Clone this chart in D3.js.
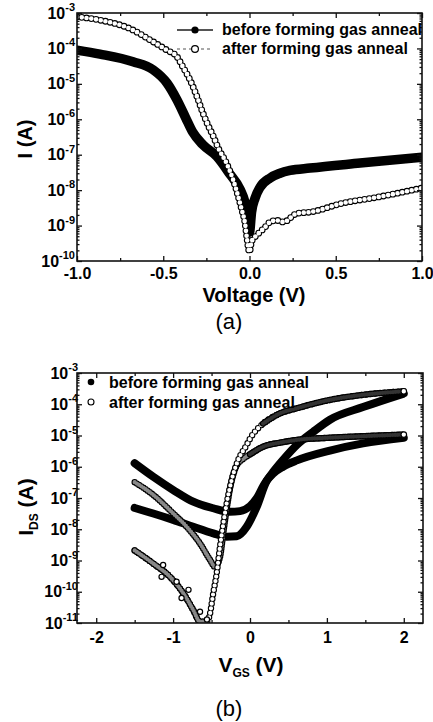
<!DOCTYPE html>
<html>
<head>
<meta charset="utf-8">
<script src="https://cdn.jsdelivr.net/npm/d3@7"></script>
<style>
body { margin: 0; background: #fff; }
text { font-family: Arial, "Liberation Sans", sans-serif; }
</style>
</head>
<body>
<div id="chart"></div>
<script>
// ---- panel (a): diode I-V, [V, I (A)]
var ivBefore = [
    [-1.0, 8.9e-5], [-0.867, 6.9e-5], [-0.675, 4.2e-5], [-0.559, 2.5e-5], [-0.478, 1.05e-5],
    [-0.42, 3.5e-6], [-0.37, 1.1e-6], [-0.33, 4.4e-7], [-0.27, 1.9e-7], [-0.19, 9e-8],
    [-0.113, 2.8e-8], [-0.055, 1.07e-8], [-0.026, 4.6e-9], [-0.009, 1.9e-9], [0.0, 6.5e-10],
    [0.012, 2.4e-9], [0.032, 5.9e-9], [0.061, 1.2e-8], [0.119, 2.2e-8], [0.177, 3e-8],
    [0.235, 3.6e-8], [0.351, 4.2e-8], [0.641, 5.8e-8], [1.0, 8.5e-8]
];
var ivAfter = [
    [-1.0, 7.8e-4], [-0.867, 6.3e-4], [-0.675, 3.3e-4], [-0.577, 1.74e-4], [-0.478, 8.9e-5],
    [-0.42, 5.8e-5], [-0.386, 3e-5], [-0.345, 1.3e-5], [-0.304, 4.3e-6], [-0.27, 1.5e-6],
    [-0.241, 6.9e-7], [-0.212, 3.5e-7], [-0.18, 1.5e-7], [-0.132, 5.6e-8], [-0.094, 1.9e-8],
    [-0.065, 6.5e-9], [-0.045, 2.8e-9], [-0.026, 1.15e-9], [-0.016, 4.8e-10], [0.0, 1.8e-10],
    [0.012, 3.5e-10], [0.032, 4.8e-10], [0.061, 6.6e-10], [0.09, 9e-10], [0.119, 1.26e-9],
    [0.158, 1.4e-9], [0.197, 1.26e-9], [0.275, 2.2e-9], [0.351, 2.4e-9], [0.542, 4.3e-9],
    [0.739, 6.3e-9], [1.0, 1.15e-8]
];

// ---- panel (b): transfer curves, [VGS, IDS (A)]
var tfBeforeA = [
    [-1.5, 1.3e-6], [-1.258, 4.8e-7], [-0.998, 1.8e-7], [-0.738, 7.6e-8], [-0.478, 4.7e-8],
    [-0.26, 3.6e-8], [-0.13, 3.8e-8], [0.0, 5.5e-8], [0.09, 1e-7], [0.18, 2.6e-7],
    [0.30, 6.8e-7], [0.43, 1.66e-6], [0.61, 5e-6], [0.82, 1.3e-5], [1.04, 3.2e-5],
    [1.47, 8.1e-5], [2.0, 2.2e-4]
];
var tfBeforeB = [
    [-1.5, 4.8e-8], [-1.258, 3.2e-8], [-0.998, 2e-8], [-0.738, 1.2e-8], [-0.478, 7.4e-9],
    [-0.303, 5.8e-9], [-0.173, 6e-9], [-0.043, 1.2e-8], [0.087, 5.2e-8], [0.217, 3.5e-7],
    [0.30, 6e-7], [0.43, 1e-6], [0.61, 1.6e-6], [1.04, 3.3e-6], [1.47, 5.6e-6], [2.0, 8.5e-6]
];
var tfAfterC = [
    [-1.5, 3.2e-7], [-1.258, 1.26e-7], [-0.998, 3.2e-8], [-0.823, 1.2e-8], [-0.65, 3.5e-9],
    [-0.52, 1.05e-9], [-0.455, 6.3e-10], [-0.39, 1.3e-9], [-0.346, 8e-9], [-0.30, 5e-8],
    [-0.26, 2e-7], [-0.173, 1.1e-6], [-0.087, 1.8e-6], [0.0, 2.5e-6], [0.173, 4.4e-6],
    [0.39, 5.9e-6], [0.607, 7.2e-6], [1.04, 8.5e-6], [1.47, 9.5e-6], [2.0, 1.07e-5]
];
var tfAfterD = [
    [-1.5, 2.1e-9], [-1.258, 8e-10], [-1.04, 3e-10], [-0.868, 9e-11], [-0.738, 2.6e-11],
    [-0.65, 1.1e-11], [-0.563, 1.1e-11], [-0.52, 2e-11], [-0.478, 9e-11], [-0.433, 3.9e-10],
    [-0.39, 2.8e-9], [-0.346, 1.55e-8], [-0.303, 6.8e-8], [-0.238, 3.8e-7], [-0.153, 1.66e-6],
    [-0.043, 5e-6], [0.0, 7.9e-6], [0.17, 2.4e-5], [0.39, 5.1e-5], [0.607, 7.4e-5],
    [1.04, 1.38e-4], [1.47, 2e-4], [2.0, 2.6e-4]
];
var tfAfterScatter = [
    [-1.13, 7.2e-10], [-1.15, 3e-10], [-0.955, 2.1e-10], [-0.80, 1.15e-10],
    [-0.89, 6.3e-11], [-0.65, 2.3e-11], [-0.56, 1.3e-11]
];

var legendLabels = ["before forming gas anneal", "after forming gas anneal"];
var xTicksA = [-1, -0.5, 0, 0.5, 1];
var xMinorA = [-0.75, -0.25, 0.25, 0.75];
var xTicksB = [-2, -1, 0, 1, 2];
var xMinorB = [-1.5, -0.5, 0.5, 1.5];
var decadesA = [-10, -9, -8, -7, -6, -5, -4, -3];
var decadesB = [-11, -10, -9, -8, -7, -6, -5, -4, -3];

var W = 433, H = 722;
var svg = d3.select("#chart").append("svg").attr("width", W).attr("height", H);

var xa = d3.scaleLinear().domain([-1, 1]).range([77, 422]);
var ya = d3.scaleLog().domain([1e-10, 1e-3]).range([261, 13]);
var xb = d3.scaleLinear().domain([-2.25, 2.25]).range([77, 423]);
var yb = d3.scaleLog().domain([1e-11, 1e-3]).range([623, 373]);

function lineGen(x, y) {
    return d3.line()
        .x(function (d) { return x(d[0]); })
        .y(function (d) { return y(d[1]); })
        .curve(d3.curveMonotoneX);
}

function styleAxis(g, size) {
    g.select(".domain").remove();
    g.selectAll("line").attr("stroke", "#111").attr("stroke-width", 1.3);
    g.selectAll("text").attr("font-family", "Arial, 'Liberation Sans', sans-serif")
        .attr("font-size", size).attr("font-weight", "bold").attr("fill", "#000");
}

function drawAxes(x, y, xMaj, xMin, decades, fmt, pad, labelX) {
    var g = svg.append("g");
    var x0 = x.range()[0], x1 = x.range()[1];
    var yb0 = y.range()[0], yt = y.range()[1];

    var majY = decades.map(function (k) { return Math.pow(10, k); });
    var minY = [];
    decades.slice(0, -1).forEach(function (k) {
        for (var m = 2; m <= 9; m++) minY.push(m * Math.pow(10, k));
    });

    g.append("g").attr("transform", "translate(0," + yb0 + ")")
        .call(d3.axisBottom(x).tickValues(xMaj).tickSizeInner(-5).tickSizeOuter(0).tickPadding(pad).tickFormat(fmt))
        .call(styleAxis, 16);
    g.append("g").attr("transform", "translate(0," + yb0 + ")")
        .call(d3.axisBottom(x).tickValues(xMin).tickSizeInner(-3).tickSizeOuter(0).tickFormat(""))
        .call(styleAxis, 16);
    g.append("g").attr("transform", "translate(0," + yt + ")")
        .call(d3.axisTop(x).tickValues(xMaj).tickSizeInner(-5).tickSizeOuter(0).tickFormat(""))
        .call(styleAxis, 16);
    g.append("g").attr("transform", "translate(0," + yt + ")")
        .call(d3.axisTop(x).tickValues(xMin).tickSizeInner(-3).tickSizeOuter(0).tickFormat(""))
        .call(styleAxis, 16);

    [[d3.axisLeft, x0], [d3.axisRight, x1]].forEach(function (a) {
        g.append("g").attr("transform", "translate(" + a[1] + ",0)")
            .call(a[0](y).tickValues(majY).tickSizeInner(-5).tickSizeOuter(0).tickFormat(""))
            .call(styleAxis, 16);
        g.append("g").attr("transform", "translate(" + a[1] + ",0)")
            .call(a[0](y).tickValues(minY).tickSizeInner(-2.5).tickSizeOuter(0).tickFormat(""))
            .call(styleAxis, 16);
    });

    // y labels 10^k
    decades.forEach(function (k) {
        var t = g.append("text")
            .attr("x", labelX).attr("y", y(Math.pow(10, k)) + 5.5)
            .attr("text-anchor", "end").attr("font-weight", "bold").attr("font-size", 16);
        t.append("tspan").text("10");
        t.append("tspan").attr("font-size", 11).attr("dy", -7.5).text("-" + (-k));
    });

    g.append("rect")
        .attr("x", x0).attr("y", yt).attr("width", x1 - x0).attr("height", yb0 - yt)
        .attr("fill", "none").attr("stroke", "#111").attr("stroke-width", 1.6);
}

function drawFilled(g, pts, x, y, w) {
    g.append("path").attr("d", lineGen(x, y)(pts))
        .attr("fill", "none").attr("stroke", "#000").attr("stroke-width", w)
        .attr("stroke-linecap", "round").attr("stroke-linejoin", "round");
}

// chain of open circles along the data curve (dash pattern of round caps)
function drawOpen(g, pts, x, y, r, gap, inner) {
    var d = lineGen(x, y)(pts);
    g.append("path").attr("d", d).attr("fill", "none").attr("stroke", "#000")
        .attr("stroke-width", r * 2).attr("stroke-linecap", "round")
        .attr("stroke-dasharray", "0," + gap);
    g.append("path").attr("d", d).attr("fill", "none").attr("stroke", inner)
        .attr("stroke-width", r * 2 - 2.2).attr("stroke-linecap", "round")
        .attr("stroke-dasharray", "0," + gap);
}

function openDots(g, pts, x, y, r) {
    g.selectAll(null).data(pts).enter().append("circle")
        .attr("cx", function (d) { return x(d[0]); })
        .attr("cy", function (d) { return y(d[1]); })
        .attr("r", r - 0.6).attr("fill", "#fff").attr("stroke", "#000").attr("stroke-width", 1.2);
}

function clipFor(id, x, y) {
    svg.append("clipPath").attr("id", id).append("rect")
        .attr("x", x.range()[0]).attr("y", y.range()[1])
        .attr("width", x.range()[1] - x.range()[0]).attr("height", y.range()[0] - y.range()[1]);
    return svg.append("g").attr("clip-path", "url(#" + id + ")");
}

// ================= panel (a)
var ga = clipFor("clipA", xa, ya);
drawFilled(ga, ivBefore, xa, ya, 9.5);
drawOpen(ga, ivAfter, xa, ya, 3.4, 4.8, "#fff");
drawAxes(xa, ya, xTicksA, xMinorA, decadesA, function (v) { return v.toFixed(1); }, 7, 75);

// legend (a)
var la = svg.append("g");
la.append("line").attr("x1", 177).attr("x2", 213).attr("y1", 30).attr("y2", 30)
    .attr("stroke", "#555").attr("stroke-width", 1.8);
la.append("circle").attr("cx", 195).attr("cy", 30).attr("r", 3.6).attr("fill", "#000");
la.append("line").attr("x1", 177).attr("x2", 213).attr("y1", 49).attr("y2", 49)
    .attr("stroke", "#555").attr("stroke-width", 1.2).attr("stroke-dasharray", "3,3");
la.append("circle").attr("cx", 195).attr("cy", 49).attr("r", 3.4)
    .attr("fill", "#fff").attr("stroke", "#000").attr("stroke-width", 1.2);
la.selectAll("text.lg").data(legendLabels).enter().append("text")
    .attr("x", 222).attr("y", function (d, i) { return i === 0 ? 35 : 54; })
    .attr("font-size", 16).attr("font-weight", "bold").text(function (d) { return d; });

svg.append("text").attr("x", 254).attr("y", 302).attr("text-anchor", "middle")
    .attr("font-size", 20).attr("font-weight", "bold").text("Voltage (V)");
svg.append("text").attr("transform", "translate(32,139) rotate(-90)").attr("text-anchor", "middle")
    .attr("font-size", 20).attr("font-weight", "bold").text("I (A)");
svg.append("text").attr("x", 229).attr("y", 329).attr("text-anchor", "middle")
    .attr("font-family", "'Liberation Serif', 'Times New Roman', serif").attr("font-size", 22).text("(a)");

// ================= panel (b)
var gb = clipFor("clipB", xb, yb);
drawFilled(gb, tfBeforeA, xb, yb, 8);
drawFilled(gb, tfBeforeB, xb, yb, 8);
drawOpen(gb, tfAfterC, xb, yb, 3.2, 2.6, "#888");
drawOpen(gb, tfAfterC.slice(13), xb, yb, 3.2, 2.6, "#333");
drawOpen(gb, tfAfterD, xb, yb, 3.2, 4.6, "#fff");
drawOpen(gb, tfAfterD.slice(0, 7), xb, yb, 3.2, 2.6, "#888");
drawOpen(gb, tfAfterD.slice(17), xb, yb, 3.2, 2.6, "#333");
openDots(gb, tfAfterScatter, xb, yb, 3.2);
openDots(gb, [tfAfterC[tfAfterC.length - 1], tfAfterD[tfAfterD.length - 1]], xb, yb, 3.4);
drawAxes(xb, yb, xTicksB, xMinorB, decadesB, function (v) { return String(v); }, 9, 78);

// legend (b)
var lb = svg.append("g");
lb.append("circle").attr("cx", 91).attr("cy", 382).attr("r", 3.3).attr("fill", "#000");
lb.append("circle").attr("cx", 91).attr("cy", 402).attr("r", 3)
    .attr("fill", "#fff").attr("stroke", "#000").attr("stroke-width", 1.1);
lb.selectAll("text.lg").data(legendLabels).enter().append("text")
    .attr("x", 109).attr("y", function (d, i) { return i === 0 ? 387.5 : 407.5; })
    .attr("font-size", 16).attr("font-weight", "bold").text(function (d) { return d; });

var vt = svg.append("text").attr("x", 251).attr("y", 672).attr("text-anchor", "middle")
    .attr("font-size", 21).attr("font-weight", "bold");
vt.append("tspan").text("V");
vt.append("tspan").attr("font-size", 12).attr("dy", 5).text("GS");
vt.append("tspan").attr("dy", -5).text(" (V)");

var it = svg.append("text").attr("transform", "translate(33,507) rotate(-90)").attr("text-anchor", "middle")
    .attr("font-size", 21).attr("font-weight", "bold");
it.append("tspan").text("I");
it.append("tspan").attr("font-size", 12).attr("dy", 5).text("DS");
it.append("tspan").attr("dy", -5).text(" (A)");

svg.append("text").attr("x", 229).attr("y", 716).attr("text-anchor", "middle")
    .attr("font-family", "'Liberation Serif', 'Times New Roman', serif").attr("font-size", 22).text("(b)");
</script>
</body>
</html>
